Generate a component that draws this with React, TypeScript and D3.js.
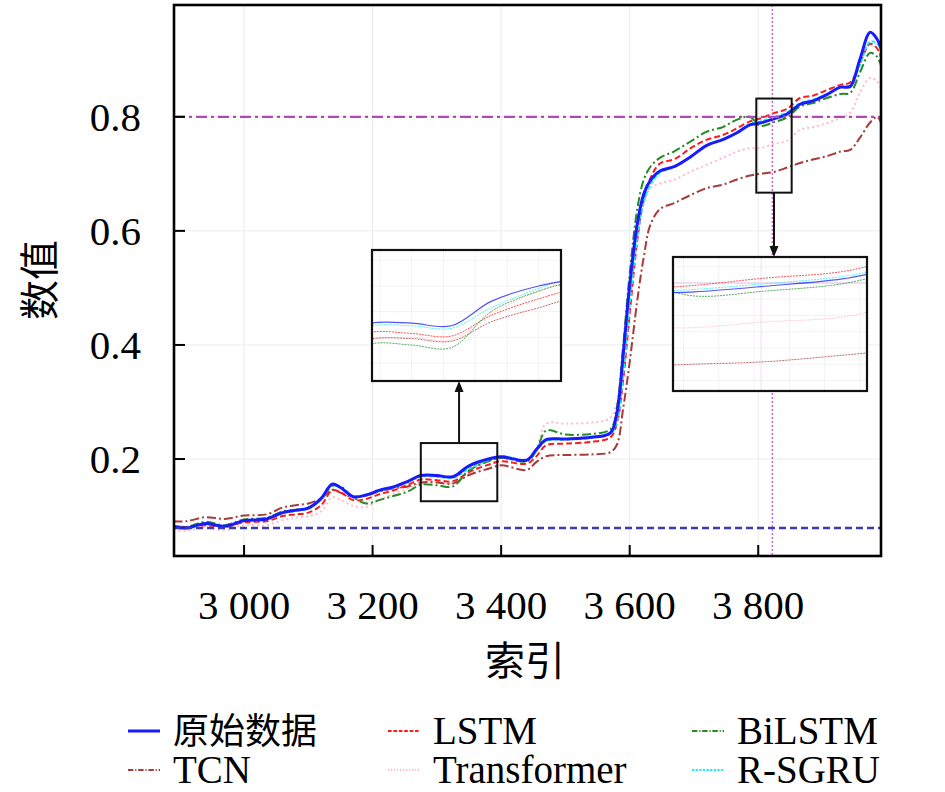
import React from 'react';
import * as d3 from 'd3';

// sample positions (index) shared by every series
const idx = [2890, 2910, 2940, 2970, 3000, 3035, 3060, 3080, 3100, 3120, 3137, 3150, 3170, 3190, 3210, 3235, 3255, 3275, 3300, 3325, 3350, 3380, 3400, 3440, 3455, 3470, 3500, 3540, 3570, 3580, 3590, 3600, 3612, 3622, 3632, 3647, 3670, 3695, 3720, 3745, 3767, 3787, 3803, 3823, 3845, 3865, 3885, 3907, 3928, 3943, 3958, 3974, 3985, 3991];

const rawData = [0.081, 0.079, 0.087, 0.082, 0.092, 0.095, 0.106, 0.110, 0.114, 0.131, 0.156, 0.150, 0.134, 0.137, 0.145, 0.152, 0.161, 0.171, 0.171, 0.169, 0.188, 0.200, 0.204, 0.198, 0.217, 0.234, 0.235, 0.238, 0.246, 0.280, 0.385, 0.505, 0.614, 0.665, 0.688, 0.705, 0.713, 0.730, 0.750, 0.760, 0.772, 0.786, 0.789, 0.796, 0.805, 0.822, 0.828, 0.839, 0.852, 0.853, 0.900, 0.948, 0.936, 0.920];
const lstm = [0.082, 0.081, 0.084, 0.081, 0.089, 0.091, 0.100, 0.103, 0.106, 0.119, 0.145, 0.142, 0.128, 0.130, 0.138, 0.146, 0.155, 0.164, 0.163, 0.161, 0.177, 0.190, 0.196, 0.192, 0.205, 0.224, 0.227, 0.230, 0.238, 0.262, 0.340, 0.455, 0.585, 0.655, 0.692, 0.718, 0.726, 0.745, 0.760, 0.768, 0.780, 0.792, 0.797, 0.806, 0.814, 0.833, 0.837, 0.847, 0.856, 0.860, 0.893, 0.928, 0.920, 0.905];
const bilstm = [0.083, 0.081, 0.090, 0.084, 0.094, 0.097, 0.108, 0.111, 0.115, 0.130, 0.153, 0.152, 0.133, 0.122, 0.128, 0.136, 0.143, 0.155, 0.154, 0.152, 0.180, 0.196, 0.202, 0.196, 0.215, 0.250, 0.243, 0.244, 0.252, 0.290, 0.400, 0.525, 0.640, 0.690, 0.712, 0.728, 0.740, 0.757, 0.774, 0.782, 0.795, 0.800, 0.784, 0.790, 0.799, 0.818, 0.824, 0.833, 0.840, 0.842, 0.877, 0.912, 0.905, 0.890];
const tcn = [0.091, 0.091, 0.098, 0.095, 0.101, 0.103, 0.115, 0.119, 0.122, 0.131, 0.146, 0.141, 0.133, 0.136, 0.143, 0.149, 0.152, 0.159, 0.159, 0.157, 0.172, 0.183, 0.189, 0.181, 0.195, 0.205, 0.207, 0.208, 0.212, 0.225, 0.290, 0.370, 0.480, 0.555, 0.610, 0.638, 0.649, 0.663, 0.675, 0.681, 0.690, 0.697, 0.700, 0.703, 0.711, 0.719, 0.725, 0.731, 0.739, 0.742, 0.763, 0.790, 0.800, 0.790];
const transformer = [0.074, 0.074, 0.080, 0.075, 0.084, 0.084, 0.093, 0.097, 0.100, 0.108, 0.133, 0.128, 0.118, 0.116, 0.128, 0.140, 0.148, 0.158, 0.160, 0.158, 0.178, 0.196, 0.202, 0.200, 0.220, 0.262, 0.262, 0.264, 0.272, 0.300, 0.380, 0.480, 0.590, 0.650, 0.675, 0.683, 0.690, 0.704, 0.716, 0.728, 0.739, 0.745, 0.745, 0.752, 0.758, 0.777, 0.782, 0.789, 0.798, 0.807, 0.842, 0.868, 0.862, 0.850];
const rsgru = [0.080, 0.078, 0.086, 0.081, 0.091, 0.094, 0.105, 0.109, 0.113, 0.129, 0.154, 0.150, 0.135, 0.137, 0.144, 0.151, 0.160, 0.169, 0.169, 0.167, 0.183, 0.198, 0.205, 0.199, 0.214, 0.232, 0.234, 0.237, 0.244, 0.265, 0.350, 0.470, 0.590, 0.650, 0.680, 0.702, 0.712, 0.730, 0.750, 0.761, 0.773, 0.788, 0.792, 0.799, 0.808, 0.824, 0.830, 0.840, 0.853, 0.856, 0.890, 0.932, 0.928, 0.915];

const xTicks = [3000, 3200, 3400, 3600, 3800];
const yTicks = [0.2, 0.4, 0.6, 0.8];
const upperLevel = 0.8;
const lowerLevel = 0.079;
const markIndex = 3822;
// zoomed windows: [index from, index to, value from, value to]
const zoomA = [3275, 3394, 0.126, 0.228];
const zoomB = [3797, 3852, 0.667, 0.832];

const series = [
  { name: '原始数据', values: rawData, color: '#1a1aff', width: 3, dash: '' },
  { name: 'LSTM', values: lstm, color: '#ff1a1a', width: 2, dash: '6,3' },
  { name: 'BiLSTM', values: bilstm, color: '#228b22', width: 2, dash: '9,3,2,3' },
  { name: 'TCN', values: tcn, color: '#a83a3a', width: 2, dash: '9,3,2,3' },
  { name: 'Transformer', values: transformer, color: '#ffbcc8', width: 2, dash: '2,3' },
  { name: 'R-SGRU', values: rsgru, color: '#1ff0ff', width: 2, dash: '4,2' },
];
// draw order: blue line on top of the cyan one
const drawOrder = [4, 3, 1, 2, 5, 0];

const W = 945;
const H = 792;
const P = { left: 174, top: 5, right: 881, bottom: 556 };
const serif = "'Liberation Serif', 'DejaVu Serif', 'Times New Roman', serif";
const cjk = "'Noto Sans CJK SC', sans-serif";

const x = d3.scaleLinear().domain([2891, 3991]).range([P.left, P.right]);
const y = d3.scaleLinear().domain([0.03, 0.996]).range([P.bottom, P.top]);

const fmtX = d3.formatLocale({ decimal: '.', thousands: ' ', grouping: [3], currency: ['', ''] }).format(',');
const fmtY = d3.format('.1f');

const makeLine = (xs: any, ys: any) =>
  d3.line<number>()
    .x((_, i) => xs(idx[i]))
    .y(d => ys(d))
    .curve(d3.curveCatmullRom.alpha(0.5));

const Inset = ({ id, win, box }: { id: string; win: number[]; box: number[] }) => {
  const [bx0, by0, bx1, by1] = box;
  const xs = d3.scaleLinear().domain([win[0], win[1]]).range([bx0, bx1]);
  const ys = d3.scaleLinear().domain([win[2], win[3]]).range([by1, by0]);
  const line = makeLine(xs, ys);
  return (
    <g>
      <defs>
        <clipPath id={id}>
          <rect x={bx0} y={by0} width={bx1 - bx0} height={by1 - by0} />
        </clipPath>
      </defs>
      <rect x={bx0} y={by0} width={bx1 - bx0} height={by1 - by0} fill="#fff" />
      <g clipPath={`url(#${id})`}>
        {xs.ticks(6).map(t => (
          <line key={'gx' + t} x1={xs(t)} x2={xs(t)} y1={by0} y2={by1} stroke="#f2f2f2" strokeWidth={1} />
        ))}
        {ys.ticks(6).map(t => (
          <line key={'gy' + t} x1={bx0} x2={bx1} y1={ys(t)} y2={ys(t)} stroke="#f2f2f2" strokeWidth={1} />
        ))}
        <line x1={bx0} x2={bx1} y1={ys(upperLevel)} y2={ys(upperLevel)} stroke="#e8d6ef" strokeWidth={1.5} />
        <line x1={xs(markIndex)} x2={xs(markIndex)} y1={by0} y2={by1} stroke="#f5e8f7" strokeWidth={1.5} />
        {drawOrder.map(k => {
          const s = series[k];
          return (
            <path key={s.name} d={line(s.values) || ''} fill="none" stroke={s.color}
              strokeWidth={k === 0 ? 1.2 : 1} strokeDasharray={s.dash ? '2,1' : ''} opacity={0.75} />
          );
        })}
      </g>
      <rect x={bx0} y={by0} width={bx1 - bx0} height={by1 - by0} fill="none" stroke="#111" strokeWidth={2.2} />
    </g>
  );
};

const Arrow = ({ x0, y0, y1 }: { x0: number; y0: number; y1: number }) => {
  const dir = y1 > y0 ? 1 : -1;
  const base = y1 - dir * 11;
  return (
    <g>
      <line x1={x0} x2={x0} y1={y0} y2={base} stroke="#111" strokeWidth={2} />
      <path d={`M${x0},${y1} L${x0 - 4.5},${base} L${x0 + 4.5},${base} Z`} fill="#111" />
    </g>
  );
};

const App = () => {
  const line = makeLine(x, y);
  const boxA = [372, 250, 561, 381];
  const boxB = [673, 257, 867, 391];
  const legendCols = [128, 388, 692];
  const legendRows = [731, 770];

  return (
    <svg width={W} height={H} style={{ position: 'absolute', left: 0, top: 0, background: '#fff' }}>
      <defs>
        <clipPath id="plotClip">
          <rect x={P.left} y={P.top} width={P.right - P.left} height={P.bottom - P.top} />
        </clipPath>
      </defs>
      <rect x={0} y={0} width={W} height={H} fill="#fff" />

      {/* grid */}
      {xTicks.map(t => (
        <line key={'gx' + t} x1={x(t)} x2={x(t)} y1={P.top} y2={P.bottom} stroke="#ececec" strokeWidth={1} />
      ))}
      {yTicks.map(t => (
        <line key={'gy' + t} x1={P.left} x2={P.right} y1={y(t)} y2={y(t)} stroke="#ececec" strokeWidth={1} />
      ))}

      <g clipPath="url(#plotClip)">
        {drawOrder.map(k => {
          const s = series[k];
          return (
            <path key={s.name} d={line(s.values) || ''} fill="none" stroke={s.color}
              strokeWidth={s.width} strokeDasharray={s.dash} strokeLinejoin="round" />
          );
        })}
        <line x1={P.left} x2={P.right} y1={y(lowerLevel)} y2={y(lowerLevel)} stroke="#3b3bb0" strokeWidth={2.5} strokeDasharray="7,4" />
        <line x1={P.left} x2={P.right} y1={y(upperLevel)} y2={y(upperLevel)} stroke="#b248b8" strokeWidth={2.2} strokeDasharray="11,4,3,4" />
        <line x1={x(markIndex)} x2={x(markIndex)} y1={P.top} y2={P.bottom} stroke="#c46ad0" strokeWidth={1.5} strokeDasharray="2,2" />
      </g>

      {/* zoom source rectangles and arrows */}
      <rect x={x(zoomA[0])} y={y(zoomA[3])} width={x(zoomA[1]) - x(zoomA[0])} height={y(zoomA[2]) - y(zoomA[3])}
        fill="none" stroke="#111" strokeWidth={2} />
      <rect x={x(zoomB[0])} y={y(zoomB[3])} width={x(zoomB[1]) - x(zoomB[0])} height={y(zoomB[2]) - y(zoomB[3])}
        fill="none" stroke="#111" strokeWidth={2} />
      <Arrow x0={(x(zoomA[0]) + x(zoomA[1])) / 2} y0={y(zoomA[3])} y1={boxA[3]} />
      <Arrow x0={(x(zoomB[0]) + x(zoomB[1])) / 2} y0={y(zoomB[2])} y1={boxB[1]} />
      <Inset id="insetA" win={zoomA} box={boxA} />
      <Inset id="insetB" win={zoomB} box={boxB} />

      {/* frame and ticks */}
      <rect x={P.left} y={P.top} width={P.right - P.left} height={P.bottom - P.top} fill="none" stroke="#000" strokeWidth={2.6} />
      {xTicks.map(t => (
        <g key={'tx' + t}>
          <line x1={x(t)} x2={x(t)} y1={P.bottom} y2={P.bottom - 11} stroke="#000" strokeWidth={2} />
          <text x={x(t)} y={619} textAnchor="middle" style={{ fontFamily: serif, fontSize: 41 }}>{fmtX(t)}</text>
        </g>
      ))}
      {yTicks.map(t => (
        <g key={'ty' + t}>
          <line x1={P.left} x2={P.left + 11} y1={y(t)} y2={y(t)} stroke="#000" strokeWidth={2} />
          <text x={141} y={y(t) + 14} textAnchor="end" style={{ fontFamily: serif, fontSize: 41 }}>{fmtY(t)}</text>
        </g>
      ))}

      {/* axis titles */}
      <text x={525} y={675} textAnchor="middle" style={{ fontFamily: cjk, fontSize: 40 }}>索引</text>
      <text transform="translate(54,280) rotate(-90)" textAnchor="middle" style={{ fontFamily: cjk, fontSize: 40 }}>数值</text>

      {/* legend */}
      {series.map((s, i) => {
        const lx = legendCols[i % 3];
        const ly = legendRows[Math.floor(i / 3)];
        return (
          <g key={'lg' + s.name}>
            <line x1={lx} x2={lx + 32} y1={ly} y2={ly} stroke={s.color} strokeWidth={s.width === 3 ? 3 : 1.8}
              strokeDasharray={s.dash ? s.dash.split(',').map(v => +v * 0.6).join(',') : ''} />
            <text x={lx + 45} y={ly + 13}
              style={{ fontFamily: i === 0 ? cjk : serif, fontSize: i === 0 ? 36 : 39 }}>{s.name}</text>
          </g>
        );
      })}
    </svg>
  );
};

export default App;
